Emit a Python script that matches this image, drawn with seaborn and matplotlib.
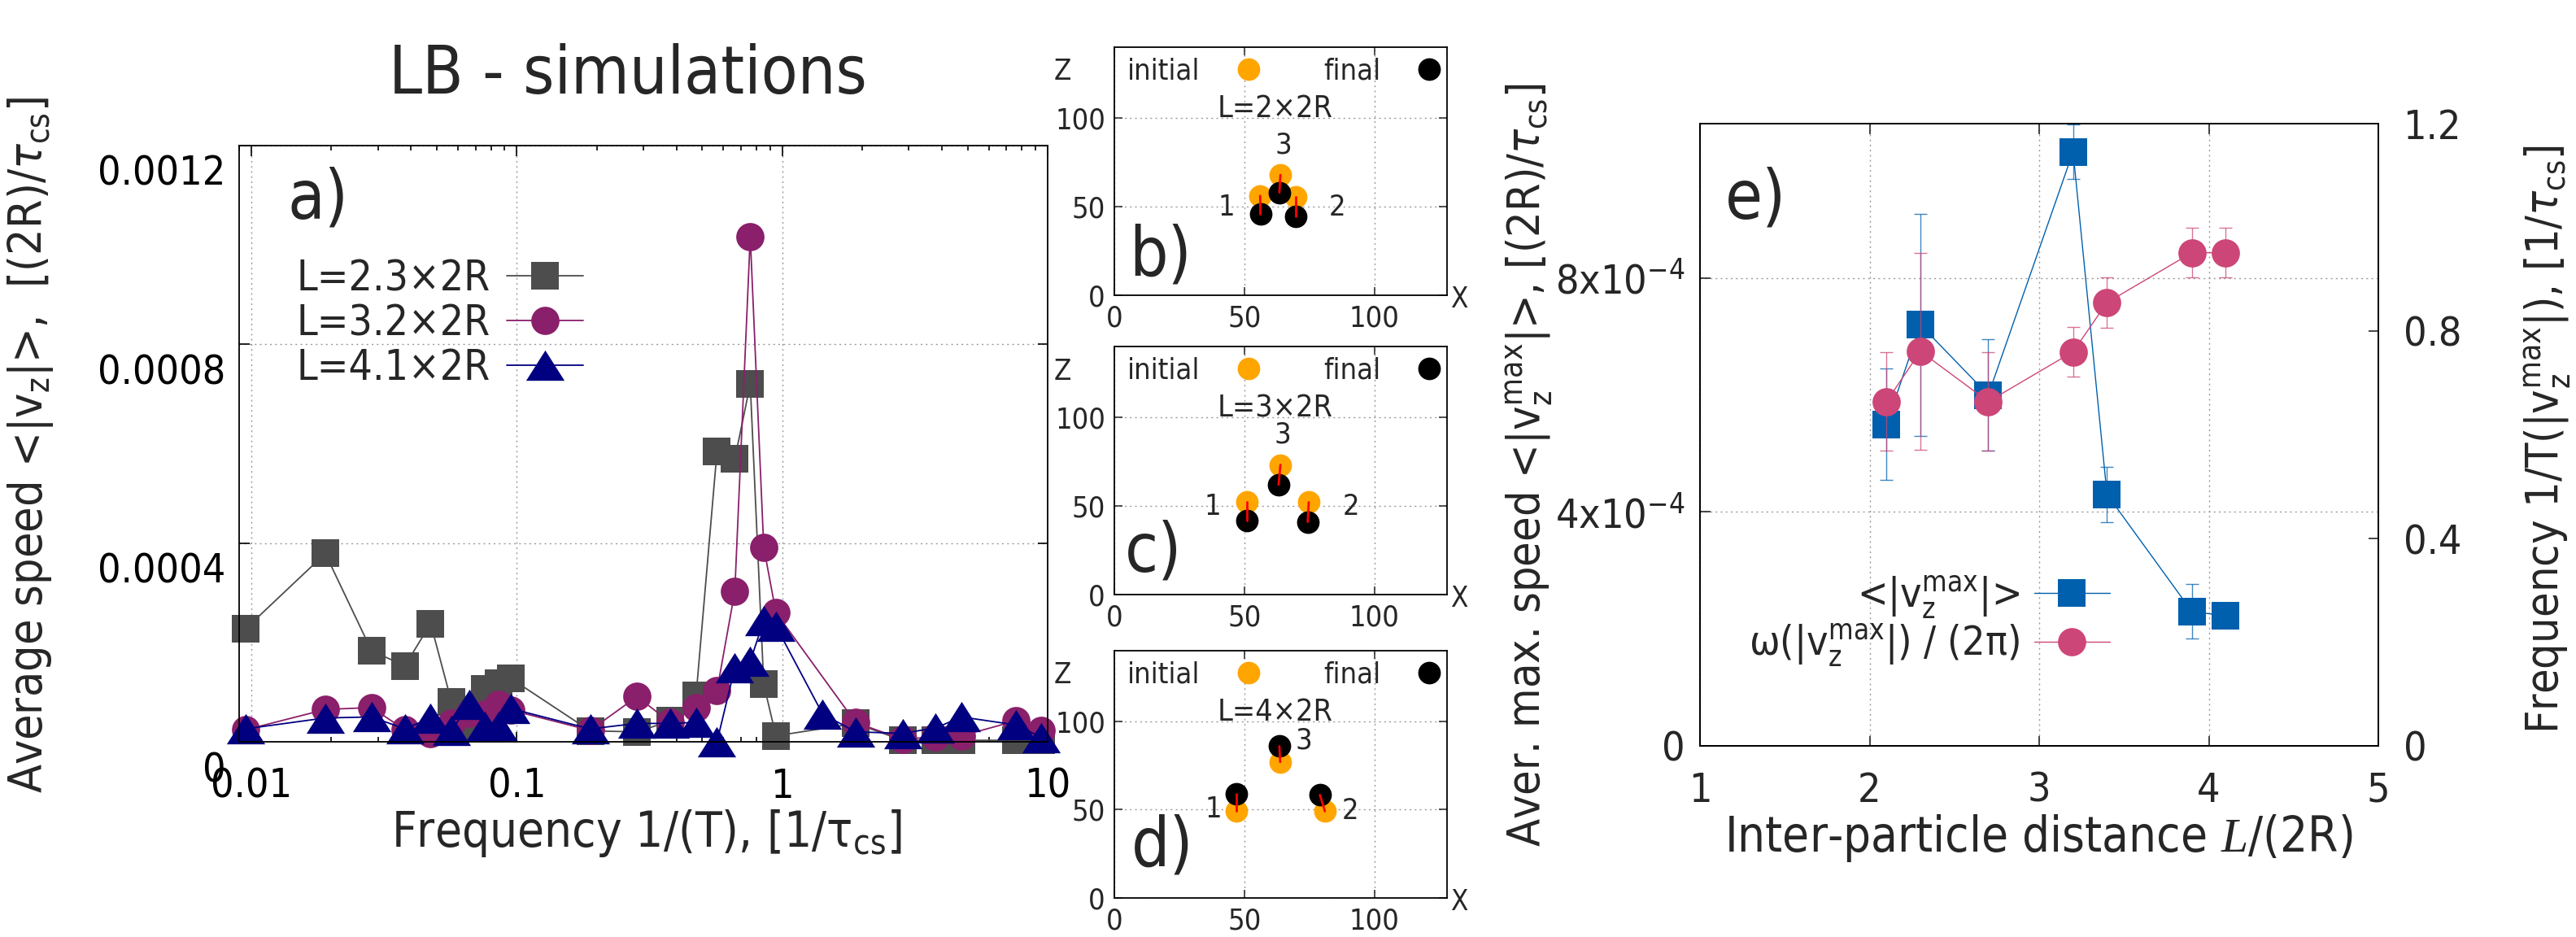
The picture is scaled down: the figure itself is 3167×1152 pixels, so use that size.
import matplotlib
matplotlib.use("Agg")
import matplotlib.pyplot as plt
import matplotlib.transforms as mtransforms
import numpy as np
import seaborn as sns
from matplotlib import font_manager
from matplotlib.lines import Line2D
from matplotlib.ticker import FuncFormatter, LogLocator, NullFormatter

# ---------------- data: panel a (spectra) ----------------
FREQ = [0.0095, 0.019, 0.0284, 0.0379, 0.0474, 0.0568, 0.0663, 0.0758, 0.0852, 0.0947,
        0.189, 0.284, 0.379, 0.474, 0.568, 0.663, 0.758, 0.852, 0.947,
        1.89, 2.84, 3.79, 4.74, 7.58, 9.47]
FREQ_41 = [0.0095, 0.019, 0.0284, 0.0379, 0.0474, 0.0568, 0.0663, 0.0758, 0.0852, 0.0947,
           0.189, 0.284, 0.379, 0.474, 0.568, 0.663, 0.758, 0.852, 0.947,
           1.42, 1.89, 2.84, 3.79, 4.74, 7.58, 9.47]
# speeds in units of 1e-4 (2R)/tau_cs
SPEED_23 = [2.27, 3.79, 1.83, 1.53, 2.38, 0.80, 0.28, 1.07, 1.18, 1.28,
            0.22, 0.20, 0.42, 0.94, 5.84, 5.69, 7.20, 1.16, 0.12,
            0.37, 0.03, 0.03, 0.03, 0.03, 0.04]
SPEED_32 = [0.24, 0.65, 0.69, 0.24, 0.17, 0.37, 0.58, 0.55, 0.75, 0.64,
            0.23, 0.91, 0.39, 0.69, 1.03, 3.03, 10.17, 3.92, 2.60,
            0.39, 0.05, 0.10, 0.12, 0.42, 0.23]
SPEED_41 = [0.26, 0.48, 0.50, 0.26, 0.48, 0.23, 0.75, 0.31, 0.31, 0.67,
            0.26, 0.37, 0.37, 0.39, 0.0, 1.49, 1.62, 2.44, 2.33,
            0.56, 0.20, 0.17, 0.28, 0.50, 0.34, 0.09]
SERIES_LABELS = ["L=2.3×2R", "L=3.2×2R", "L=4.1×2R"]

# ---------------- data: panels b-d (particle positions) ----------------
INIT_B_X, INIT_B_Z = [56.1, 69.7, 63.9], [56.1, 55.4, 67.9]
FINAL_B_X, FINAL_B_Z = [56.2, 69.7, 63.5], [45.7, 44.6, 58.0]
INIT_C_X, INIT_C_Z = [51.0, 74.8, 63.9], [52.1, 52.1, 73.2]
FINAL_C_X, FINAL_C_Z = [51.0, 74.4, 63.2], [41.7, 41.0, 62.0]
INIT_D_X, INIT_D_Z = [46.8, 81.0, 63.8], [49.1, 49.1, 77.0]
FINAL_D_X, FINAL_D_Z = [46.8, 79.1, 63.5], [58.9, 58.3, 85.9]
SEP_LABELS = ["L=2×2R", "L=3×2R", "L=4×2R"]

# ---------------- data: panel e ----------------
L_DIST = [2.1, 2.3, 2.7, 3.2, 3.4, 3.9, 4.1]
VMAX = [5.5, 7.2, 6.0, 10.16, 4.3, 2.3, 2.22]          # 1e-4
VMAX_ERR = [0.95, 1.9, 0.95, 0.47, 0.47, 0.47, 0.0]     # 1e-4
OMEGA = [0.664, 0.761, 0.664, 0.76, 0.855, 0.951, 0.951]
OMEGA_ERR = [0.095, 0.19, 0.095, 0.048, 0.048, 0.048, 0.048]

W, H = 3167, 1152
GRAY = "#4d4d4d"
PURPLE = "#8a1f6b"
NAVY = "#000080"
BLUE = "#0060ad"
PINK = "#cd4678"
ORANGE = "#ffa500"
GRID_KW = dict(color="#9a9a9a", linestyle=(0, (1.5, 3)), linewidth=1.0)

sns.set_theme(style="ticks")
names = {f.name for f in font_manager.fontManager.ttflist}
if "Liberation Sans Narrow" in names:
    NARROW = "Liberation Sans Narrow"
    plt.rcParams["font.stretch"] = "normal"
else:
    NARROW = "DejaVu Sans"
    plt.rcParams["font.stretch"] = "condensed"
plt.rcParams["font.family"] = [NARROW, "DejaVu Sans"]
plt.rcParams["mathtext.fontset"] = "dejavusans"
plt.rcParams["mathtext.it"] = "Liberation Serif:italic"
plt.rcParams["mathtext.rm"] = NARROW
plt.rcParams["axes.linewidth"] = 1.3
plt.rcParams["axes.edgecolor"] = "black"

TRIANGLE = [(-1.0, -0.79), (1.0, -0.79), (0.0, 0.79)]
TICK_FS = 36
LEG_FS = 37


def box(l, t, r, b):
    return [l / W, 1 - b / H, (r - l) / W, (b - t) / H]


fig = plt.figure(figsize=(W / 100, H / 100), dpi=100)
fig.patch.set_facecolor("white")

# ================= panel a =================
ax = fig.add_axes(box(294, 179, 1288, 912))
specs = [
    (FREQ, SPEED_23, GRAY, "s", 24),
    (FREQ, SPEED_32, PURPLE, "o", 25),
    (FREQ_41, SPEED_41, NAVY, TRIANGLE, 34),
]
handles = []
for (fx, sp, col, mk, ms), lab in zip(specs, SERIES_LABELS):
    sns.lineplot(x=fx, y=np.array(sp) * 1e-4, ax=ax, color=col, marker=mk,
                 markersize=ms, markeredgewidth=0, linewidth=1.3,
                 errorbar=None, legend=False, clip_on=False)
    handles.append(Line2D([], [], color=col, marker=mk, markersize=ms,
                          markeredgewidth=0, linewidth=1.3, label=lab))
ax.set_xscale("log")
ax.set_xlim(0.009, 10)
ax.set_ylim(0, 0.0012)
ax.set_yticks([0, 0.0004, 0.0008, 0.0012])
ax.yaxis.set_major_formatter(FuncFormatter(lambda v, p: "0" if v == 0 else f"{v:.4f}"))
ax.xaxis.set_major_locator(LogLocator(base=10))
ax.xaxis.set_minor_locator(LogLocator(base=10, subs=np.arange(2, 10)))
ax.xaxis.set_minor_formatter(NullFormatter())
ax.xaxis.set_major_formatter(FuncFormatter(lambda v, p: f"{v:g}"))
ax.tick_params(which="both", direction="in", top=True, right=True, width=1.2,
               labelsize=TICK_FS, colors="black")
ax.tick_params(which="major", length=9)
ax.tick_params(which="minor", length=4.5)
ax.tick_params(axis="x", pad=22)
ax.tick_params(axis="y", pad=12)
ax.grid(True, which="major", **GRID_KW)
ax.set_xlabel("")
ax.set_ylabel("")
shift = mtransforms.ScaledTranslation(0, -0.30, fig.dpi_scale_trans)
for t in ax.yaxis.get_major_ticks():
    t.label1.set_transform(t.label1.get_transform() + shift)
ax.legend(handles=handles, loc="center right", bbox_to_anchor=(0.4256, 0.701),
          markerfirst=False, frameon=False, fontsize=LEG_FS, handlelength=1.83,
          handletextpad=0.39, labelspacing=0.1, borderpad=0, borderaxespad=0)
ax.text(0.06, 0.91, "a)", transform=ax.transAxes, fontsize=60, family="DejaVu Sans",
        ha="left", va="center")
fig.text(772 / W, 1 - 92 / H, "LB - simulations", fontsize=59, ha="center", va="center")
fig.text(795 / W, 1 - 1025 / H, r"Frequency 1/(T), [1/$\mathregular{\tau_{cs}}$]",
         fontsize=43, ha="center", va="center")
fig.text(38 / W, 1 - 547 / H,
         r"Average speed <|v$_\mathregular{z}$|>,  [(2R)/$\tau_\mathregular{cs}$]",
         rotation=90, fontsize=41, family="DejaVu Sans", ha="center", va="center")

# ================= panels b, c, d =================
panels = [
    (box(1370, 58, 1779, 363), INIT_B_X, INIT_B_Z, FINAL_B_X, FINAL_B_Z, SEP_LABELS[0],
     "b)", (0.044, 0.081), [(43, 49.5), (85.8, 49.5), (64.9, 84.8)]),
    (box(1370, 426, 1779, 731), INIT_C_X, INIT_C_Z, FINAL_C_X, FINAL_C_Z, SEP_LABELS[1],
     "c)", (0.032, 0.094), [(37.8, 49.4), (90.9, 49.4), (64.8, 90.0)]),
    (box(1370, 800, 1779, 1104), INIT_D_X, INIT_D_Z, FINAL_D_X, FINAL_D_Z, SEP_LABELS[2],
     "d)", (0.05, 0.13), [(38.0, 50.0), (90.7, 49.4), (73.0, 89.3)]),
]
for rect, ix, iz, fx, fz, sep, letter, lpos, numpos in panels:
    axp = fig.add_axes(rect)
    sns.scatterplot(x=ix, y=iz, ax=axp, color=ORANGE, s=400, linewidth=0, zorder=3)
    sns.scatterplot(x=fx, y=fz, ax=axp, color="black", s=400, linewidth=0, zorder=4)
    for x0, z0, x1, z1 in zip(ix, iz, fx, fz):
        axp.plot([x0, x1], [z0, z1], color="red", lw=2, zorder=5)
    axp.set_xlim(0, 128)
    axp.set_ylim(0, 140)
    axp.set_xticks([0, 50, 100])
    axp.set_yticks([0, 50, 100])
    axp.tick_params(direction="in", top=True, right=True, length=7, width=1.1,
                    labelsize=26, pad=8)
    axp.grid(True, **GRID_KW)
    axp.set_xlabel("")
    axp.set_ylabel("")
    for (tx, tz), num in zip(numpos, ["1", "2", "3"]):
        axp.text(tx, tz, num, fontsize=26, ha="center", va="center")
    axp.text(62, 105, sep, fontsize=27, ha="center", va="center")
    axp.text(lpos[0], lpos[1], letter, transform=axp.transAxes, fontsize=60,
             family="DejaVu Sans", ha="left", va="baseline")
    axp.text(-0.156, 0.90, "Z", transform=axp.transAxes, fontsize=25, ha="center", va="center")
    axp.text(1.037, -0.017, "X", transform=axp.transAxes, fontsize=25, ha="center", va="center")
    leg_h = [Line2D([], [], ls="none", marker="o", color=ORANGE, markersize=20, markeredgewidth=0),
             Line2D([], [], ls="none", marker="o", color="black", markersize=20, markeredgewidth=0)]
    axp.legend(handles=leg_h, labels=["initial", "final"], ncol=2, markerfirst=False,
               loc="center left", bbox_to_anchor=(0.039, 0.904), frameon=False,
               fontsize=26, handlelength=1.9, handletextpad=0.7, columnspacing=1.6,
               borderpad=0, borderaxespad=0)

# ================= panel e =================
axe = fig.add_axes(box(2090, 152, 2924, 917))
vmax = np.array(VMAX) * 1e-4
axe.errorbar(L_DIST, vmax, yerr=np.array(VMAX_ERR) * 1e-4, fmt="none", ecolor=BLUE,
             alpha=0.75, elinewidth=1.0, capsize=5.5, capthick=1.0, zorder=2)
sns.lineplot(x=L_DIST, y=vmax, ax=axe, color=BLUE, marker="s", markersize=24,
             markeredgewidth=0, linewidth=1.0, errorbar=None, legend=False, zorder=3)
axe.set_xlim(1, 5)
axe.set_ylim(0, 1.064e-3)
axe.set_xticks([1, 2, 3, 4, 5])
axe.set_yticks([0, 4e-4, 8e-4])
axe.set_yticklabels(["0", r"$\mathregular{4x10^{-4}}$", r"$\mathregular{8x10^{-4}}$"])
axe.tick_params(direction="in", top=True, right=False, length=9, width=1.2,
                labelsize=TICK_FS)
axe.tick_params(axis="x", pad=22)
axe.tick_params(axis="y", pad=13)
axe.grid(True, **GRID_KW)
axe.set_xlabel("")
axe.set_ylabel("")

axe2 = axe.twinx()
axe2.errorbar(L_DIST, OMEGA, yerr=OMEGA_ERR, fmt="none", ecolor=PINK, alpha=0.75,
              elinewidth=1.0, capsize=5.5, capthick=1.0, zorder=2)
sns.lineplot(x=L_DIST, y=OMEGA, ax=axe2, color=PINK, marker="o", markersize=25,
             markeredgewidth=0, linewidth=1.0, errorbar=None, legend=False, zorder=3)
axe2.set_ylim(0, 1.2)
axe2.set_yticks([0, 0.4, 0.8, 1.2])
axe2.yaxis.set_major_formatter(FuncFormatter(lambda v, p: "0" if v == 0 else f"{v:.1f}"))
axe2.tick_params(direction="in", length=9, width=1.2, labelsize=TICK_FS, pad=22)
axe2.set_ylabel("")
axe2.grid(False)

e_handles = [
    Line2D([], [], color=BLUE, marker="s", markersize=24, markeredgewidth=0, linewidth=1.0),
    Line2D([], [], color=PINK, marker="o", markersize=25, markeredgewidth=0, linewidth=1.0),
]
e_labels = [r"<|v$_\mathregular{z}^\mathregular{max}$|>",
            r"$\mathregular{\omega}$(|v$_\mathregular{z}^\mathregular{max}$|) / (2$\mathregular{\pi}$)"]
axe2.legend(handles=e_handles, labels=e_labels, loc="center right",
            bbox_to_anchor=(0.604, 0.2), markerfirst=False, frameon=False, fontsize=36,
            handlelength=1.85, handletextpad=0.37, labelspacing=0.05, borderpad=0,
            borderaxespad=0)
axe.text(0.037, 0.878, "e)", transform=axe.transAxes, fontsize=60, family="DejaVu Sans",
         ha="left", va="center")
fig.text(2506 / W, 1 - 1030 / H, r"Inter-particle distance $L$/(2R)", fontsize=43,
         ha="center", va="center", math_fontfamily="custom")
fig.text(1880 / W, 1 - 572 / H,
         r"Aver. max. speed <|v$_\mathregular{z}^\mathregular{max}$|>, [(2R)/$\tau_\mathregular{cs}$]",
         rotation=90, fontsize=40, family="DejaVu Sans", ha="center", va="center")
fig.text(3131 / W, 1 - 540 / H,
         r"Frequency 1/T(|v$_\mathregular{z}^\mathregular{max}$|), [1/$\tau_\mathregular{cs}$]",
         rotation=90, fontsize=40, family="DejaVu Sans", ha="center", va="center")

fig.savefig("out.png", dpi=100, facecolor="white")
